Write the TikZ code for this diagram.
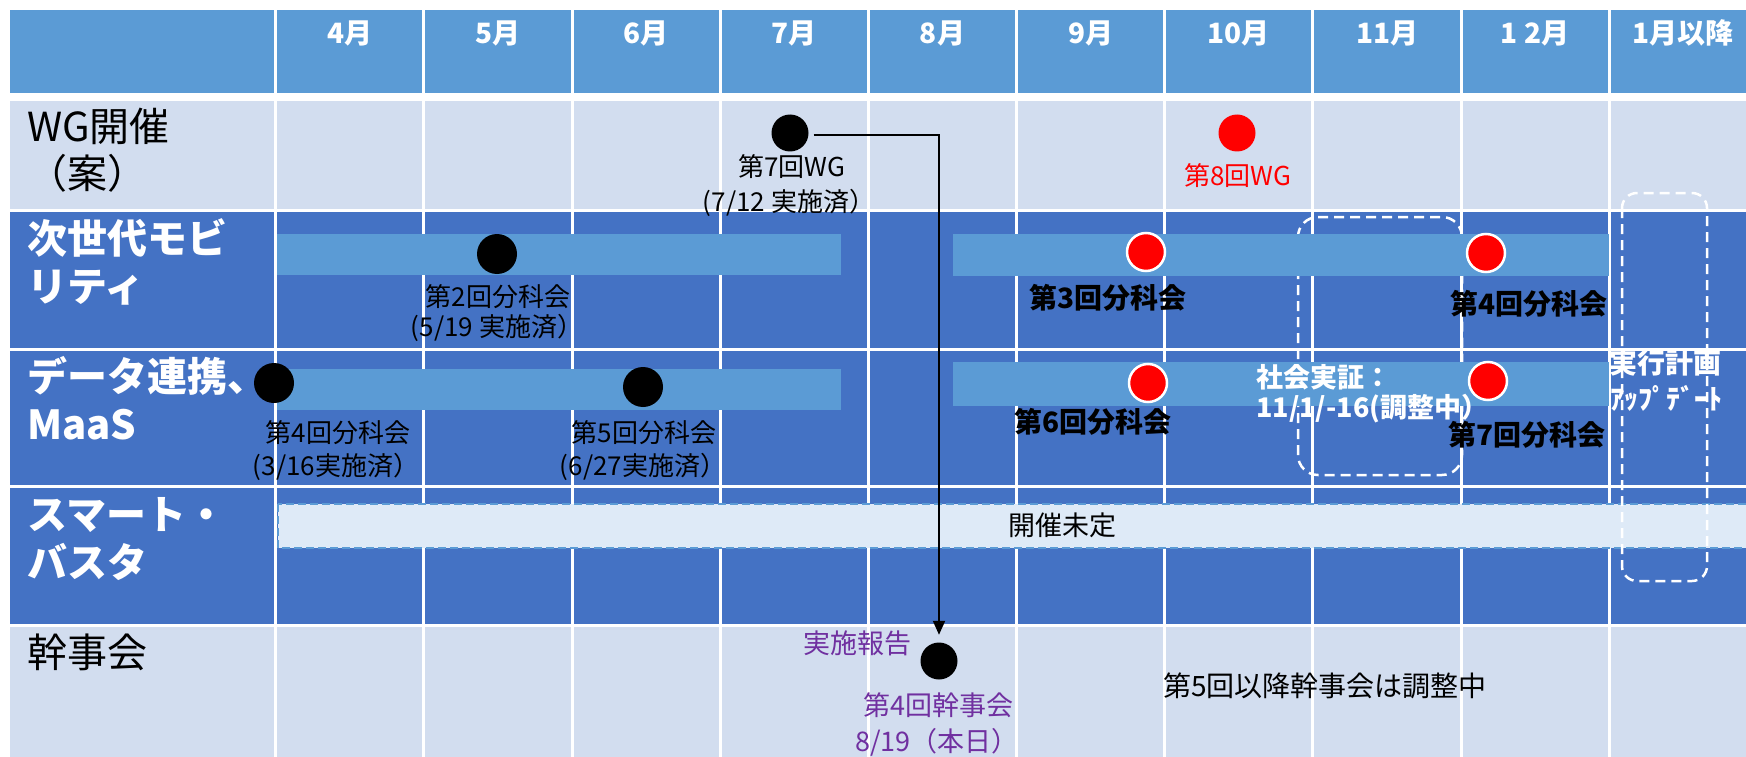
\documentclass[tikz,border=0pt]{standalone}
\usepackage{fontspec}
\setmainfont{Noto Sans CJK JP}
\usetikzlibrary{arrows.meta}
\definecolor{hdr}{HTML}{5B9BD5}
\definecolor{lite}{HTML}{D2DDEF}
\definecolor{dark}{HTML}{4472C4}
\definecolor{barc}{HTML}{5B9BD5}
\definecolor{pale}{HTML}{DEEAF7}
\definecolor{purp}{HTML}{7030A0}
\begin{document}
\begin{tikzpicture}[x=1pt,y=-1pt,
  grid/.style={white,line width=3pt},
  mon/.style={text=white,inner sep=0pt,font=\fontsize{28}{32}\selectfont\bfseries},
  rowlab/.style={anchor=west,inner sep=0pt,font=\fontsize{40}{48}\selectfont},
  rowlabw/.style={rowlab,text=white,font=\fontsize{40}{48}\selectfont\bfseries},
  lbl/.style={inner sep=0pt,font=\fontsize{26}{30}\selectfont},
  blbl/.style={inner sep=0pt,font=\fontsize{28}{32}\selectfont\bfseries},
  wlbl/.style={inner sep=0pt,text=white,font=\fontsize{27}{32}\selectfont\bfseries},
  bdot/.style={circle,fill=black,inner sep=0pt,minimum size=37pt},
  rdot/.style={circle,fill=red,draw=white,line width=2.5pt,inner sep=0pt,minimum size=38pt},
  bar/.style={fill=barc},
  dbox/.style={draw=white,dash pattern=on 10pt off 6pt,line width=2.5pt},
  conn/.style={draw=black,line width=2pt,-{Triangle[length=14pt,width=12pt]}}
]
\useasboundingbox (0,0) rectangle (1746,757);
\clip (0,0) rectangle (1746,757);
\fill[white] (0,0) rectangle (1746,757);
% header and rows
\fill[hdr] (10,10) rectangle (1746,93);
\fill[lite] (10,101) rectangle (1746,210.3);
\fill[dark] (10,210.3) rectangle (1746,625);
\fill[lite] (10,625) rectangle (1746,757);
% grid
\foreach \y in {210.3,349.3,486.5,625} \draw[grid] (10,\y) -- (1746,\y);
\foreach \i in {0,...,9} {
  \draw[grid] ({275.7+148.18*\i},10) -- ({275.7+148.18*\i},93);
  \draw[grid] ({275.7+148.18*\i},101) -- ({275.7+148.18*\i},757);
}
% month labels
\foreach \m [count=\i from 0] in {4月,5月,6月,7月,8月,9月,10月,11月,1 2月,1月以降}
  \node[mon] (m\i) at ({275.7+148.18*\i+74.09},33) {\m};
% row labels
\node[rowlab] (r1a) at (27,126) {WG開催};
\node[rowlab] (r1b) at (27,173) {（案）};
\node[rowlabw] (r2a) at (27,238) {次世代モビ};
\node[rowlabw] (r2b) at (27,288) {リティ};
\node[rowlabw] (r3a) at (27,376) {データ連携、};
\node[rowlabw] (r3b) at (27,425) {MaaS};
\node[rowlabw] (r4a) at (27,515) {スマート・};
\node[rowlabw] (r4b) at (27,562) {バスタ};
\node[rowlab] (r5a) at (27,652) {幹事会};
% dashed box social test (behind bars)
\draw[dbox,rounded corners=20pt] (1298,217) rectangle (1462,475);
% bars
\fill[bar] (277,234) rectangle (841,275);
\fill[bar] (953,234) rectangle (1609,276);
\fill[bar] (277,369) rectangle (841,410);
\fill[bar] (953,362) rectangle (1609,406);
% smart busta bar
\draw[fill=pale,draw=barc,line width=2pt,dash pattern=on 8pt off 4pt] (278,504) rectangle (1760,548);
\node[lbl,font=\fontsize{27}{30}\selectfont] (tbd) at (1062,525) {開催未定};
% plan update box
\draw[dbox,rounded corners=15pt] (1622,193) rectangle (1707,581);
% dots
\node[bdot] (wg7) at (790,133) {};
\node[bdot,fill=red] (wg8) at (1237,133) {};
\node[bdot,minimum size=40pt] (s2) at (497,254) {};
\node[rdot] (s3) at (1146,252) {};
\node[rdot] (s4) at (1486,253) {};
\node[bdot,minimum size=40pt] (d4) at (274,383) {};
\node[bdot,minimum size=40pt] (d5) at (643,387) {};
\node[rdot] (d6) at (1148,383) {};
\node[rdot] (d7) at (1488,381) {};
\node[bdot] (kj4) at (939,661) {};
% labels
\node[lbl] (l7wg) at (792,167) {第7回WG};
\node[lbl] (l7wgd) at (789,203) {(7/12 実施済）};
\node[lbl,text=red] (l8wg) at (1238,176) {第8回WG};
\node[lbl] (l2) at (498,297) {第2回分科会};
\node[lbl] (l2d) at (497,328) {(5/19 実施済）};
\node[lbl] (l4) at (338,433) {第4回分科会};
\node[lbl] (l4d) at (336,467) {(3/16実施済）};
\node[lbl] (l5) at (644,433) {第5回分科会};
\node[lbl] (l5d) at (643,467) {(6/27実施済）};
\node[blbl] (b3) at (1108,298) {第3回分科会};
\node[blbl] (b4) at (1529,304) {第4回分科会};
\node[blbl] (b6) at (1093,422) {第6回分科会};
\node[blbl] (b7) at (1527,435) {第7回分科会};
\node[wlbl,anchor=west] (soc1) at (1256,377) {社会実証：};
\node[wlbl,anchor=west] (soc2) at (1256,409) {11/1/-16(調整中）};
\node[wlbl,font=\fontsize{28}{32}\selectfont\bfseries] (up1) at (1665,363) {実行計画};
\node[wlbl,font=\fontsize{28}{32}\selectfont\bfseries] (up2) at (1666,398) {ｱｯﾌﾟﾃﾞｰﾄ};
\node[lbl,text=purp,font=\fontsize{27}{30}\selectfont] (rep) at (857,643) {実施報告};
\node[lbl,text=purp,font=\fontsize{27}{30}\selectfont] (kj4l) at (938,705) {第4回幹事会};
\node[lbl,text=purp,font=\fontsize{27}{30}\selectfont] (kj4d) at (937,742) {8/19（本日）};
\node[lbl,font=\fontsize{28}{30}\selectfont] (later) at (1325,686) {第5回以降幹事会は調整中};
% connector
\draw[conn] ([xshift=5pt,yshift=-2pt]wg7.east) -| ([yshift=7.5pt]kj4.north);
\end{tikzpicture}
\end{document}
